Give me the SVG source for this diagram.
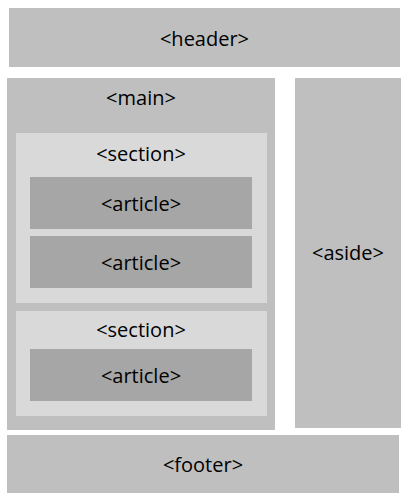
<svg xmlns="http://www.w3.org/2000/svg" width="403" height="496" viewBox="0 0 403 496">
<style>
.outer{fill:#bfbfbf}
.sec{fill:#d9d9d9}
.art{fill:#a6a6a6}
text{font-family:"Open Sans","Liberation Sans",sans-serif;font-size:20px;fill:#000;text-anchor:middle}
</style>
<rect width="403" height="496" fill="#fff"/>
<g id="header"><rect class="outer" x="9" y="8" width="391" height="59"/><text x="204.5" y="46">&lt;header&gt;</text></g>
<g id="main"><rect class="outer" x="7" y="78" width="268" height="352"/><text x="141" y="105">&lt;main&gt;</text></g>
<g id="section1"><rect class="sec" x="16" y="133" width="251" height="170"/><text x="141" y="161">&lt;section&gt;</text></g>
<g id="article1"><rect class="art" x="30" y="177" width="222" height="52"/><text x="141" y="211">&lt;article&gt;</text></g>
<g id="article2"><rect class="art" x="30" y="236" width="222" height="52"/><text x="141" y="270">&lt;article&gt;</text></g>
<g id="section2"><rect class="sec" x="16" y="311" width="251" height="105"/><text x="141" y="337">&lt;section&gt;</text></g>
<g id="article3"><rect class="art" x="30" y="349" width="222" height="52"/><text x="141" y="383">&lt;article&gt;</text></g>
<g id="aside"><rect class="outer" x="295" y="78" width="106" height="350"/><text x="348" y="260">&lt;aside&gt;</text></g>
<g id="footer"><rect class="outer" x="7" y="435" width="392" height="58"/><text x="203" y="472">&lt;footer&gt;</text></g>
<g id="connectors"/>
</svg>
